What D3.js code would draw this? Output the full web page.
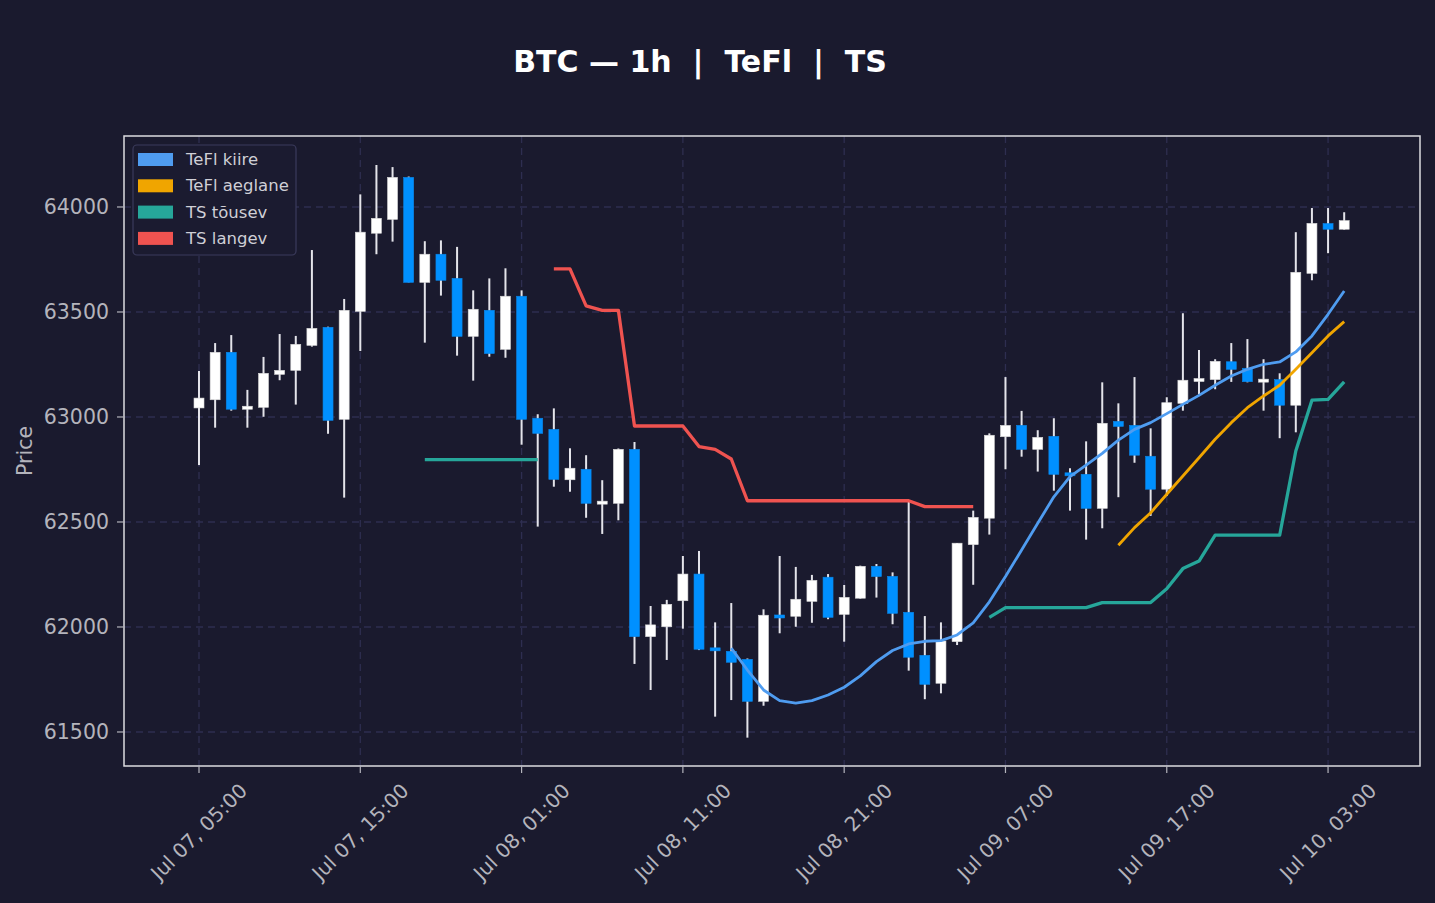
<!DOCTYPE html>
<html>
<head>
<meta charset="utf-8">
<script src="https://cdn.jsdelivr.net/npm/d3@7"></script>
<style>
  html, body { margin: 0; padding: 0; background: #1a1a2e; }
  svg { display: block; font-family: "DejaVu Sans", sans-serif; }
</style>
</head>
<body>
<div id="chart"></div>
<script>
// hourly candles from Jul 07 05:00
const startTime = Date.UTC(2024, 6, 7, 5, 0);
const opens = [63043, 63082, 63308, 63037, 63046, 63203, 63222, 63341, 63427, 62989,
  63503, 63875, 63941, 64141, 63641, 63775, 63660, 63384, 63508, 63322,
  63575, 62994, 62941, 62701, 62751, 62590, 62589, 62846, 61954, 62001,
  62125, 62252, 61897, 61884, 61846, 61646, 62052, 62051, 62122, 62237,
  62060, 62137, 62289, 62241, 62070, 61865, 61732, 61930, 62392, 62518,
  62906, 62960, 62846, 62908, 62730, 62727, 62565, 62979, 62960, 62813,
  62656, 63065, 63170, 63178, 63263, 63232, 63168, 63178, 63056, 63684,
  63921, 63894];
const highs = [63219, 63352, 63390, 63129, 63286, 63395, 63386, 63795, 63430, 63562,
  64060, 64200, 64190, 64145, 63837, 63841, 63810, 63603, 63660, 63708,
  63603, 63013, 63041, 62851, 62818, 62699, 62850, 62881, 62100, 62129,
  62338, 62362, 62022, 62114, 61850, 62084, 62338, 62286, 62248, 62252,
  62200, 62292, 62300, 62260, 62597, 62052, 62022, 62400, 62554, 62922,
  63190, 63029, 62937, 62994, 62756, 62884, 63165, 63065, 63190, 62946,
  63094, 63494, 63319, 63275, 63352, 63371, 63275, 63208, 63880, 63995,
  63995, 63975];
const lows = [62771, 62949, 63030, 62949, 63001, 63175, 63059, 63335, 62920, 62616,
  63314, 63775, 63835, 63641, 63354, 63578, 63292, 63173, 63287, 63282,
  62868, 62478, 62668, 62644, 62520, 62443, 62508, 61824, 61700, 61843,
  61992, 61890, 61573, 61652, 61473, 61625, 61970, 62001, 62020, 62037,
  61930, 62135, 62140, 62013, 61792, 61656, 61684, 61914, 62201, 62440,
  62751, 62811, 62740, 62649, 62554, 62416, 62470, 62618, 62782, 62529,
  62624, 63030, 63108, 63132, 63167, 63165, 63030, 62899, 62927, 63651,
  63780, 63892];
const closes = [63090, 63308, 63037, 63051, 63208, 63222, 63346, 63422, 62984, 63508,
  63880, 63946, 64141, 63641, 63775, 63651, 63384, 63513, 63302, 63575,
  62989, 62922, 62703, 62756, 62589, 62594, 62846, 61954, 62010, 62108,
  62252, 61894, 61890, 61832, 61646, 62056, 62048, 62132, 62222, 62046,
  62141, 62289, 62240, 62065, 61856, 61727, 61933, 62399, 62522, 62913,
  62960, 62846, 62903, 62727, 62724, 62565, 62970, 62955, 62818, 62656,
  63068, 63175, 63182, 63265, 63227, 63168, 63178, 63056, 63689, 63922,
  63894, 63935];

// indicator segments: first candle index + values
const teflFastStart = 33;
const teflFast = [61899, 61795, 61700, 61649, 61637, 61649, 61676, 61713, 61767, 61835,
  61888, 61919, 61932, 61935, 61962, 62020, 62120, 62240, 62367, 62494,
  62620, 62716, 62771, 62827, 62890, 62941, 62973, 63016, 63060, 63103,
  63151, 63195, 63227, 63251, 63262, 63310, 63386, 63489, 63600];
const teflSlowStart = 57;
const teflSlow = [62389, 62473, 62544, 62632, 62719, 62806, 62894, 62973, 63044, 63100,
  63151, 63227, 63306, 63386, 63454];
const tsUpStartA = 14;
const tsUpA = [62797, 62797, 62797, 62797, 62797, 62797, 62797, 62797];
const tsUpStartB = 49;
const tsUpB = [62046, 62092, 62092, 62092, 62092, 62092, 62092, 62116, 62116, 62116,
  62116, 62182, 62278, 62314, 62437, 62437, 62437, 62437, 62437, 62838,
  63080, 63084, 63167];
const tsDownStart = 22;
const tsDown = [63705, 63705, 63529, 63508, 63508, 62957, 62957, 62957, 62957, 62859,
  62846, 62800, 62601, 62601, 62601, 62601, 62601, 62601, 62601, 62601,
  62601, 62601, 62601, 62573, 62573, 62573, 62573];

const yTicks = [61500, 62000, 62500, 63000, 63500, 64000];
const xTickEvery = 10;

const legendItems = [
  { name: 'TeFl kiire', color: '#4f9cf0' },
  { name: 'TeFl aeglane', color: '#f0a500' },
  { name: 'TS tõusev', color: '#26a69a' },
  { name: 'TS langev', color: '#ef5350' }
];

const W = 1435, H = 903;
const plot = { left: 124, right: 1420, top: 136, bottom: 766 };
const hour = 3600 * 1000;
const timeAt = (i) => new Date(startTime + i * hour);

const candles = opens.map((o, i) => ({
  t: timeAt(i), o, h: highs[i], l: lows[i], c: closes[i]
}));

const svg = d3.select('#chart').append('svg')
  .attr('width', W).attr('height', H)
  .attr('viewBox', `0 0 ${W} ${H}`);

svg.append('rect').attr('width', W).attr('height', H).attr('fill', '#1a1a2e');

const x = d3.scaleUtc()
  .domain([new Date(startTime - 4.65 * hour), new Date(startTime + 75.7 * hour)])
  .range([plot.left, plot.right]);
const y = d3.scaleLinear()
  .domain([61338, 64338])
  .range([plot.bottom, plot.top]);

const xTicks = d3.range(0, candles.length, xTickEvery).map(timeAt);
const fmt = d3.utcFormat('%b %d, %H:%M');

// grid
const grid = svg.append('g').attr('stroke', '#2e2e50').attr('stroke-width', 1.3).attr('stroke-dasharray', '7,5');
grid.selectAll('line.gy').data(yTicks).join('line')
  .attr('x1', plot.left).attr('x2', plot.right)
  .attr('y1', (d) => y(d)).attr('y2', (d) => y(d));
grid.selectAll('line.gx').data(xTicks).join('line')
  .attr('x1', (d) => x(d)).attr('x2', (d) => x(d))
  .attr('y1', plot.top).attr('y2', plot.bottom);

// candles
const bodyW = 10;
const upCol = '#ffffff', downCol = '#0090ff';
const cg = svg.append('g');
cg.selectAll('line.wick').data(candles).join('line')
  .attr('x1', (d) => x(d.t)).attr('x2', (d) => x(d.t))
  .attr('y1', (d) => y(d.h)).attr('y2', (d) => y(d.l))
  .attr('stroke', '#e4e4ea').attr('stroke-width', 2);
cg.selectAll('rect.body').data(candles).join('rect')
  .attr('x', (d) => x(d.t) - bodyW / 2)
  .attr('width', bodyW)
  .attr('y', (d) => {
    const top = y(Math.max(d.o, d.c)), bot = y(Math.min(d.o, d.c));
    return bot - top < 3 ? (top + bot) / 2 - 1.5 : top;
  })
  .attr('height', (d) => Math.max(3, y(Math.min(d.o, d.c)) - y(Math.max(d.o, d.c))))
  .attr('fill', (d) => (d.c >= d.o ? upCol : downCol))
  .attr('stroke', (d) => (d.c >= d.o ? '#d8d8d8' : '#0a86e8'))
  .attr('stroke-width', 0.6);

// indicator lines
const line = d3.line().x((d) => x(d.t)).y((d) => y(d.v));
const seg = (start, vals) => vals.map((v, k) => ({ t: timeAt(start + k), v }));
const series = [
  { pts: seg(tsUpStartA, tsUpA), color: '#26a69a', w: 3.3 },
  { pts: seg(tsUpStartB, tsUpB), color: '#26a69a', w: 3.3 },
  { pts: seg(tsDownStart, tsDown), color: '#ef5350', w: 3.3 },
  { pts: seg(teflSlowStart, teflSlow), color: '#f0a500', w: 2.8 },
  { pts: seg(teflFastStart, teflFast), color: '#4f9cf0', w: 2.8 }
];
svg.append('g').selectAll('path').data(series).join('path')
  .attr('d', (d) => line(d.pts))
  .attr('fill', 'none')
  .attr('stroke', (d) => d.color)
  .attr('stroke-width', (d) => d.w)
  .attr('stroke-linejoin', 'round');

// frame
svg.append('rect')
  .attr('x', plot.left).attr('y', plot.top)
  .attr('width', plot.right - plot.left).attr('height', plot.bottom - plot.top)
  .attr('fill', 'none').attr('stroke', '#dcdce0').attr('stroke-width', 1.5);

// y axis
const tickCol = '#b4b4bc';
const yAxis = svg.append('g');
yAxis.selectAll('line').data(yTicks).join('line')
  .attr('x1', plot.left - 7).attr('x2', plot.left)
  .attr('y1', (d) => y(d)).attr('y2', (d) => y(d))
  .attr('stroke', tickCol).attr('stroke-width', 1.2);
yAxis.selectAll('text').data(yTicks).join('text')
  .attr('x', plot.left - 15).attr('y', (d) => y(d))
  .attr('text-anchor', 'end').attr('dominant-baseline', 'central')
  .attr('fill', tickCol).attr('font-size', 20.5)
  .text((d) => d);

svg.append('text')
  .attr('transform', `translate(32,${(plot.top + plot.bottom) / 2}) rotate(-90)`)
  .attr('text-anchor', 'middle')
  .attr('fill', tickCol).attr('font-size', 20.5)
  .text('Price');

// x axis
const xAxis = svg.append('g');
xAxis.selectAll('line').data(xTicks).join('line')
  .attr('x1', (d) => x(d)).attr('x2', (d) => x(d))
  .attr('y1', plot.bottom).attr('y2', plot.bottom + 7)
  .attr('stroke', tickCol).attr('stroke-width', 1.2);
xAxis.selectAll('text').data(xTicks).join('text')
  .attr('text-anchor', 'middle').attr('dominant-baseline', 'central')
  .attr('fill', tickCol).attr('font-size', 20)
  .text((d) => fmt(d))
  .each(function (d) {
    const len = this.getComputedTextLength();
    const half = (len + 14) * Math.SQRT1_2 / 2;
    d3.select(this).attr('transform', `translate(${x(d)},${782 + half}) rotate(-45)`);
  });

// title
svg.append('text')
  .attr('x', 700).attr('y', 72)
  .attr('text-anchor', 'middle')
  .attr('fill', '#ffffff').attr('font-size', 30).attr('font-weight', 'bold')
  .attr('xml:space', 'preserve')
  .text('BTC — 1h  |  TeFl  |  TS');

// legend
const lg = svg.append('g');
lg.append('rect')
  .attr('x', 133).attr('y', 145).attr('width', 163).attr('height', 110)
  .attr('rx', 4).attr('fill', '#1b1b30').attr('stroke', '#3b3b5c').attr('stroke-width', 1.2);
const rows = lg.selectAll('g.row').data(legendItems).join('g')
  .attr('transform', (d, i) => `translate(0,${159.5 + i * 26.3})`);
rows.append('rect')
  .attr('x', 138).attr('y', -6.5).attr('width', 35).attr('height', 13)
  .attr('fill', (d) => d.color);
rows.append('text')
  .attr('x', 186).attr('y', 0).attr('dominant-baseline', 'central')
  .attr('fill', '#cfcfd6').attr('font-size', 16.5)
  .text((d) => d.name);
</script>
</body>
</html>
